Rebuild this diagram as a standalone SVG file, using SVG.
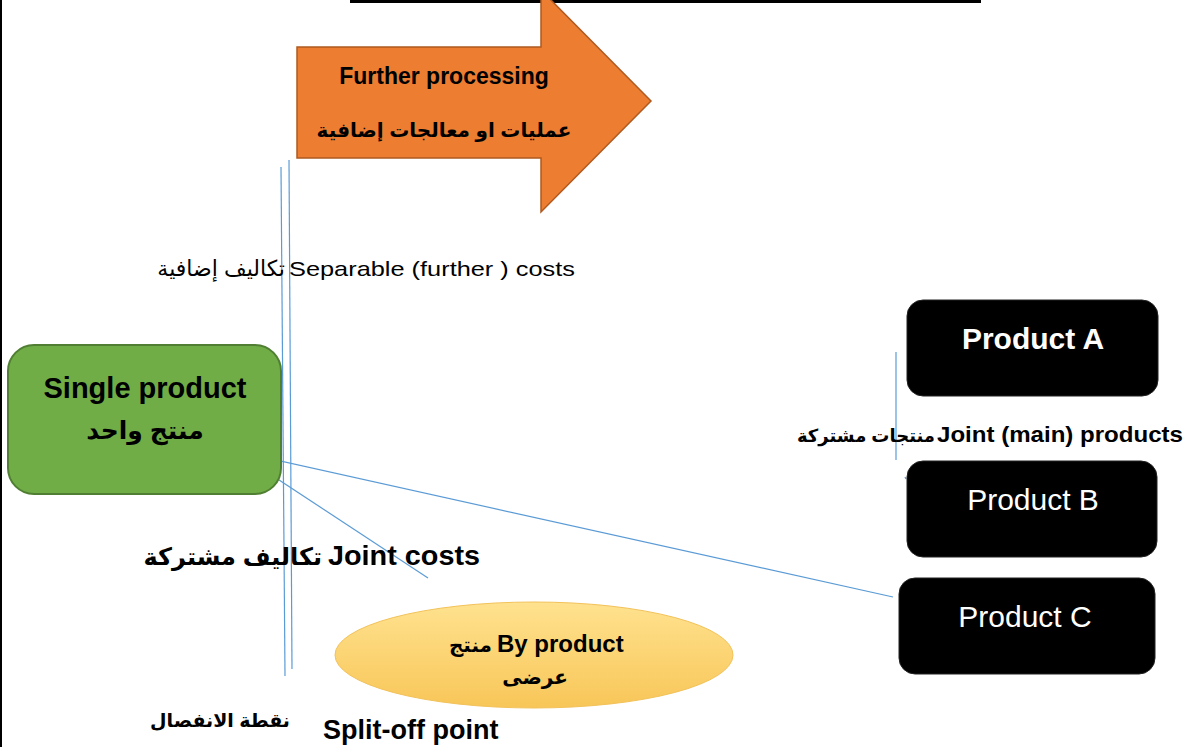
<svg xmlns="http://www.w3.org/2000/svg" width="1189" height="749" viewBox="0 0 1189 749">
<defs>
<linearGradient id="ellGrad" x1="0" y1="0" x2="0" y2="1">
<stop offset="0" stop-color="#FFE28F"/>
<stop offset="1" stop-color="#F8C658"/>
</linearGradient>
<style>
.t{font-family:"Liberation Sans","DejaVu Sans",sans-serif;fill:#000}
.b{font-weight:bold}
.w{fill:#fff}
.conn{stroke:#5B9BD5;stroke-width:1.2;fill:none}
.box{fill:#000;stroke:#222;stroke-width:1}
</style>
</defs>
<rect x="0" y="0" width="1189" height="749" fill="#fff"/>
<line x1="350" y1="1.5" x2="981" y2="1.5" stroke="#000" stroke-width="3"/>
<line x1="1" y1="0" x2="1" y2="747" stroke="#000" stroke-width="2"/>

<g id="further-processing">
<polygon points="297,47 541,47 541,-10 651,101 541,212 541,158 297,158" fill="#ED7D31" stroke="#AE5A21" stroke-width="1.5"/>
<text class="t b" x="444" y="84" font-size="23" text-anchor="middle">Further processing</text>
<text class="t b" x="444" y="137" font-size="20" text-anchor="middle">عمليات او معالجات إضافية</text>
</g>

<g id="connectors">
<line class="conn" x1="281" y1="167" x2="285" y2="676"/>
<line class="conn" x1="289" y1="160" x2="292" y2="669"/>
<line class="conn" x1="235" y1="451" x2="428" y2="578"/>
<line class="conn" x1="235" y1="451" x2="893" y2="597"/>
<line class="conn" x1="896" y1="352" x2="896" y2="460"/>
<line class="conn" x1="905" y1="477" x2="906" y2="479"/>
</g>

<g id="separable-label">
<text class="t" x="285" y="276" font-size="22" text-anchor="end">تكاليف إضافية</text>
<text class="t" x="289" y="276" font-size="21" textLength="286" lengthAdjust="spacingAndGlyphs">Separable (further ) costs</text>
</g>

<g id="single-product">
<rect x="8" y="345" width="273" height="149" rx="26" fill="#70AD47" stroke="#507E32" stroke-width="2"/>
<text class="t b" x="145" y="398" font-size="29" text-anchor="middle">Single product</text>
<text class="t b" x="145" y="439" font-size="25" text-anchor="middle">منتج واحد</text>
</g>

<g id="joint-costs-label">
<text class="t b" x="322" y="565" font-size="24" text-anchor="end">تكاليف مشتركة</text>
<text class="t b" x="328" y="565" font-size="28" textLength="152" lengthAdjust="spacingAndGlyphs">Joint costs</text>
</g>

<g id="product-a">
<rect class="box" x="907" y="300" width="251" height="96" rx="16"/>
<text class="t b w" x="1033" y="349" font-size="30" text-anchor="middle">Product A</text>
</g>

<g id="joint-products-label">
<text class="t b" x="935" y="442" font-size="18" text-anchor="end">منتجات مشتركة</text>
<text class="t b" x="937" y="442" font-size="22" textLength="246" lengthAdjust="spacingAndGlyphs">Joint (main) products</text>
</g>

<g id="product-b">
<rect class="box" x="907" y="461" width="250" height="96" rx="16"/>
<text class="t w" x="1033" y="510" font-size="30" text-anchor="middle">Product B</text>
</g>

<g id="product-c">
<rect class="box" x="899" y="578" width="256" height="96" rx="16"/>
<text class="t w" x="1025" y="627" font-size="30" text-anchor="middle">Product C</text>
</g>

<g id="by-product">
<ellipse cx="534" cy="655" rx="199" ry="53" fill="url(#ellGrad)" stroke="#F2C25A" stroke-width="1"/>
<text class="t b" x="492" y="652" font-size="20" text-anchor="end">منتج</text>
<text class="t b" x="497" y="652" font-size="24">By product</text>
<text class="t b" x="535" y="684" font-size="20" text-anchor="middle">عرضى</text>
</g>

<g id="split-off-label">
<text class="t b" x="290" y="727" font-size="19" text-anchor="end">نقطة الانفصال</text>
<text class="t b" x="323" y="739" font-size="27">Split-off point</text>
</g>
</svg>
